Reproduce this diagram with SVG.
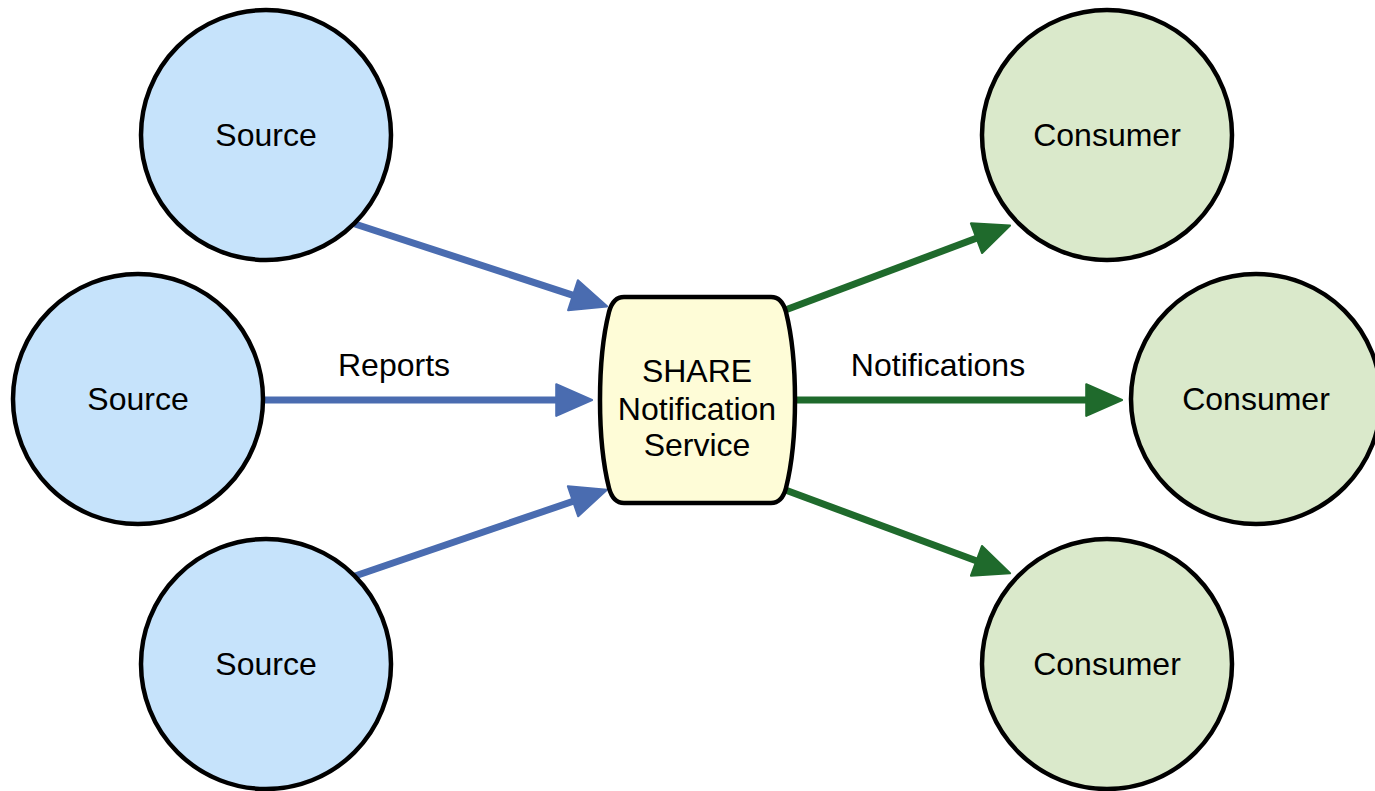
<svg xmlns="http://www.w3.org/2000/svg" width="1375" height="791" viewBox="0 0 1375 791">
<style>
.src{fill:#c6e3fb;stroke:#000;stroke-width:4.5}
.con{fill:#dae9cb;stroke:#000;stroke-width:4.5}
.svc{fill:#fefcd7;stroke:#000;stroke-width:4.5;stroke-linejoin:round}
text{font-family:"Liberation Sans",Arial,sans-serif;font-size:32px;fill:#000;text-anchor:middle}
.b{stroke:#4a6cb0;stroke-width:7;fill:none}
.g{stroke:#1f6a2c;stroke-width:7;fill:none}
</style>
<defs>
<marker id="ab" markerUnits="userSpaceOnUse" markerWidth="40" markerHeight="40" viewBox="-2 -2 38 34" refX="14" refY="15" orient="auto">
<path d="M0,0 L34,15 L0,30 Z" fill="#4a6cb0" stroke="#4a6cb0" stroke-width="2" stroke-linejoin="round"/>
</marker>
<marker id="ag" markerUnits="userSpaceOnUse" markerWidth="40" markerHeight="40" viewBox="-2 -2 38 34" refX="14" refY="15" orient="auto">
<path d="M0,0 L34,15 L0,30 Z" fill="#1f6a2c" stroke="#1f6a2c" stroke-width="2" stroke-linejoin="round"/>
</marker>
</defs>
<g id="connectors">
<line class="b" x1="355" y1="224" x2="587" y2="299.8" marker-end="url(#ab)"/>
<line class="b" x1="263" y1="400" x2="571" y2="400" marker-end="url(#ab)"/>
<line class="b" x1="355" y1="576" x2="587" y2="496.5" marker-end="url(#ab)"/>
<line class="g" x1="780" y1="312" x2="990.3" y2="233" marker-end="url(#ag)"/>
<line class="g" x1="792" y1="400" x2="1101" y2="400" marker-end="url(#ag)"/>
<line class="g" x1="780" y1="488" x2="990.3" y2="566" marker-end="url(#ag)"/>
<text x="394" y="376">Reports</text>
<text x="938" y="376">Notifications</text>
</g>
<g id="source1"><circle class="src" cx="266" cy="135" r="125"/><text x="266" y="146">Source</text></g>
<g id="source2"><circle class="src" cx="138" cy="399" r="125"/><text x="138" y="410">Source</text></g>
<g id="source3"><circle class="src" cx="266" cy="664" r="125"/><text x="266" y="675">Source</text></g>
<g id="consumer1"><circle class="con" cx="1107" cy="135" r="125"/><text x="1107" y="146">Consumer</text></g>
<g id="consumer2"><circle class="con" cx="1256" cy="399" r="125"/><text x="1256" y="410">Consumer</text></g>
<g id="consumer3"><circle class="con" cx="1107" cy="664" r="125"/><text x="1107" y="675">Consumer</text></g>
<g id="service">
<path class="svc" d="M624,297 H771 Q782,297 786,312 C798,360 798,440 786,488 Q782,503 771,503 H624 Q613,503 609,488 C597,440 597,360 609,312 Q613,297 624,297 Z"/>
<text x="697" y="382">SHARE</text>
<text x="697" y="420">Notification</text>
<text x="697" y="456">Service</text>
</g>
</svg>
